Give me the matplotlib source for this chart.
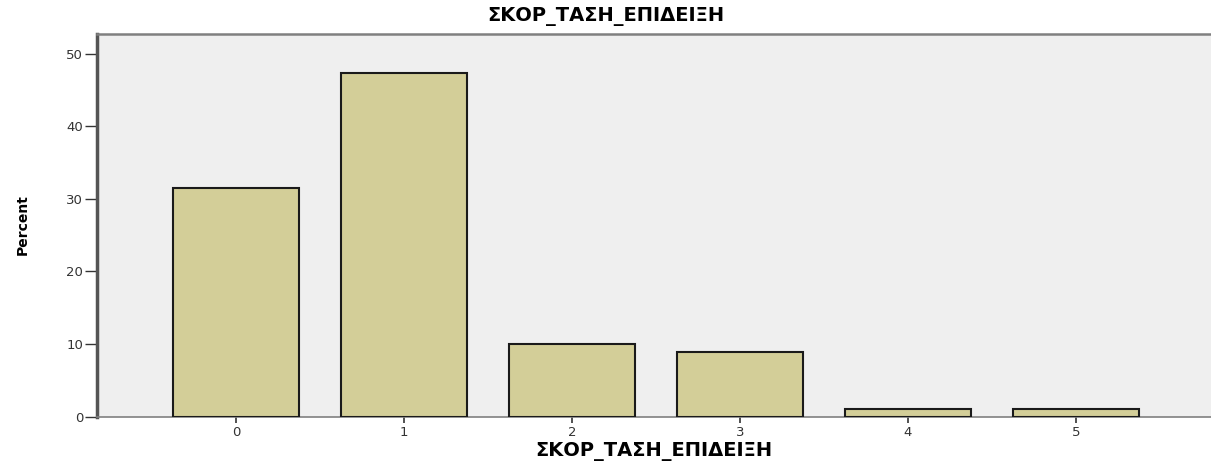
import matplotlib
matplotlib.use("Agg")
import matplotlib.pyplot as plt

categories = ["0", "1", "2", "3", "4", "5"]
percent = [31.5, 47.3, 10.0, 8.9, 1.1, 1.1]
yticks = [0, 10, 20, 30, 40, 50]
title = "ΣΚΟΡ_ΤΑΣΗ_ΕΠΙΔΕΙΞΗ"

fig = plt.figure(figsize=(12.11, 4.61), dpi=100)
ax = fig.add_axes([97/1211, 1 - 416.7/461, 1 - 97/1211, (416.7 - 34)/461])
ax.set_facecolor("#efefef")

x = list(range(len(categories)))
ax.bar(x, percent, width=0.75, color="#d3ce98", edgecolor="#1a1a1a", linewidth=1.5, zorder=3)

ax.set_xlim(-0.827, 5.804)
ax.set_ylim(0, 52.7)
ax.set_xticks(x)
ax.set_xticklabels(categories)
ax.set_yticks(yticks)

ax.spines["right"].set_visible(False)
ax.spines["left"].set_color("#555555")
ax.spines["left"].set_linewidth(2.5)
ax.spines["top"].set_color("#808080")
ax.spines["top"].set_linewidth(1.8)
ax.spines["bottom"].set_color("#808080")
ax.spines["bottom"].set_linewidth(1.2)

ax.tick_params(axis="y", length=9, width=1.0, color="#333333", labelsize=9.5, labelcolor="#333333", pad=1)
ax.tick_params(axis="x", length=4, width=1.2, color="#333333", labelsize=9.5, labelcolor="#333333", pad=3)
for lab in ax.get_xticklabels() + ax.get_yticklabels():
    lab.set_family("DejaVu Sans")

fig.text(0.5, 1 - 16/461, title, ha="center", va="center",
         fontsize=14, fontweight="bold", family="DejaVu Sans")
fig.text(654/1211, 1 - 451.5/461, title, ha="center", va="center",
         fontsize=14, fontweight="bold", family="DejaVu Sans")
fig.text(23/1211, 1 - 225/461, "Percent", ha="center", va="center", rotation=90,
         fontsize=10, fontweight="bold", family="DejaVu Sans")

fig.savefig("out.png", dpi=100)
